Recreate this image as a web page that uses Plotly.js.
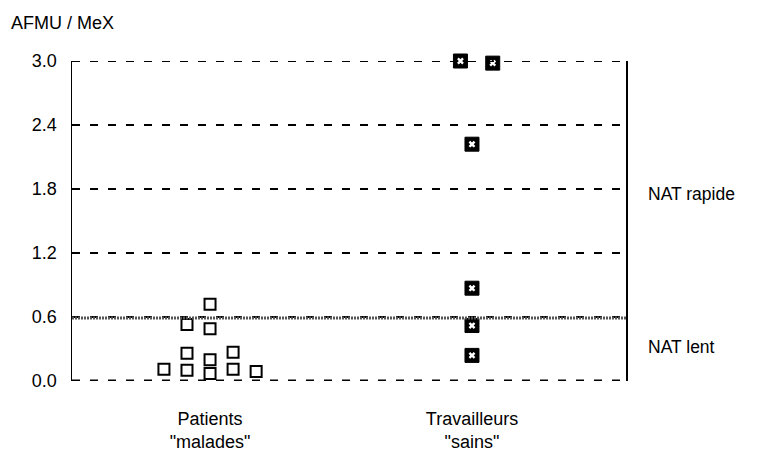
<!DOCTYPE html>
<html>
<head>
<meta charset="utf-8">
<script src="https://cdn.plot.ly/plotly-3.0.1.min.js"></script>
<style>html,body{margin:0;padding:0;background:#fff;}#chart{width:762px;height:453px;}</style>
</head>
<body>
<div id="chart"></div>
<script>
// ---- data ----
const groups = ['Patients<br>"malades"', 'Travailleurs<br>"sains"'];
const groupPos = [1, 2];
// column offsets (in jitter columns) and values for each point
const patientsCol = [-2, -1, -1, -1, 0, 0, 0, 0, 1, 1, 2];
const patientsVal = [0.11, 0.53, 0.26, 0.10, 0.72, 0.49, 0.20, 0.07, 0.27, 0.11, 0.09];
const workersCol = [-0.5, 0.9, 0, 0, 0, 0];
const workersVal = [3.0, 2.98, 2.22, 0.87, 0.52, 0.24];
const threshold = 0.59;
const yTicks = [0.0, 0.6, 1.2, 1.8, 2.4, 3.0];
const yTickText = ['0.0', '0.6', '1.2', '1.8', '2.4', '3.0'];
const yTitle = 'AFMU / MeX';
const zoneLabels = ['NAT rapide', 'NAT lent'];
const zoneLabelY = [1.75, 0.32];

const colStep = 0.088;
const px = (g, cols) => cols.map(c => groupPos[g] + c * colStep);

const FONT = 'Liberation Sans, Arial, sans-serif';

const traces = [
  {
    x: px(0, patientsCol), y: patientsVal, type: 'scatter', mode: 'markers',
    cliponaxis: false, hoverinfo: 'skip',
    marker: {symbol: 'square', size: 11, color: '#fff', line: {color: '#000', width: 2}}
  },
  {
    x: px(1, workersCol), y: workersVal, type: 'scatter', mode: 'markers',
    cliponaxis: false, hoverinfo: 'skip',
    marker: {symbol: 'square', size: 14, color: '#000', line: {color: '#000', width: 1}}
  },
  {
    x: px(1, workersCol), y: workersVal, type: 'scatter', mode: 'markers',
    cliponaxis: false, hoverinfo: 'skip',
    marker: {symbol: 'x-dot', size: 6, color: '#fff', line: {color: '#fff', width: 0}}
  }
];

const layout = {
  width: 762, height: 453,
  margin: {l: 72, r: 136, t: 61, b: 72},
  paper_bgcolor: '#fff', plot_bgcolor: '#fff',
  showlegend: false,
  font: {family: FONT, size: 18, color: '#000'},
  xaxis: {
    range: [0.473, 2.588],
    tickvals: groupPos, ticktext: groups,
    showgrid: false, zeroline: false, showline: false,
    ticks: '', ticklabelstandoff: 25,
    tickfont: {family: FONT, size: 18, color: '#000'}
  },
  yaxis: {
    range: [0, 3.0],
    tickvals: yTicks, ticktext: yTickText,
    showgrid: true, gridcolor: '#000', gridwidth: 1.8, griddash: '8px,10px',
    zeroline: false,
    showline: true, mirror: true, linecolor: '#000', linewidth: 1.5,
    ticks: '', ticklabelstandoff: 10,
    tickfont: {family: FONT, size: 18, color: '#000'}
  },
  shapes: [
    {type: 'line', xref: 'paper', x0: 0, x1: 0.99, yref: 'y', y0: 3.0, y1: 3.0,
     line: {color: '#000', width: 1.8, dash: '8px,10px'}},
    {type: 'line', xref: 'paper', x0: 0, x1: 1, yref: 'y', y0: 0, y1: 0,
     line: {color: '#000', width: 3, dash: '8px,10px'}},
    {type: 'line', xref: 'paper', x0: 0, x1: 1, yref: 'y', y0: threshold, y1: threshold,
     line: {color: '#555', width: 3, dash: '2px,1px'}}
  ],
  annotations: [
    {text: yTitle, xref: 'paper', yref: 'paper', x: -0.114, y: 1.118,
     xanchor: 'left', yanchor: 'middle', showarrow: false,
     font: {family: FONT, size: 18, color: '#000'}},
    {text: zoneLabels[0], xref: 'paper', yref: 'y', x: 1.036, y: zoneLabelY[0],
     xanchor: 'left', yanchor: 'middle', showarrow: false,
     font: {family: FONT, size: 17.5, color: '#000'}},
    {text: zoneLabels[1], xref: 'paper', yref: 'y', x: 1.036, y: zoneLabelY[1],
     xanchor: 'left', yanchor: 'middle', showarrow: false,
     font: {family: FONT, size: 17.5, color: '#000'}}
  ]
};

Plotly.newPlot('chart', traces, layout, {displayModeBar: false, staticPlot: true});
</script>
</body>
</html>
